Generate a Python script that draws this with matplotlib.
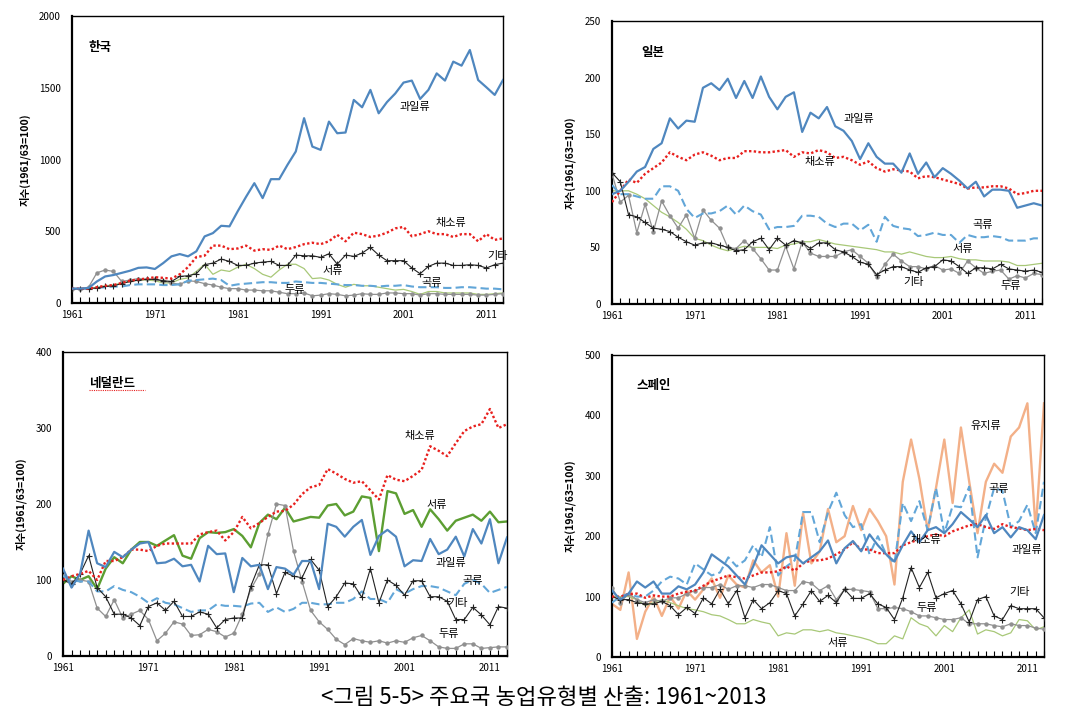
import numpy as np
import matplotlib
matplotlib.use("Agg")
import matplotlib.pyplot as plt

plt.rcParams['font.family'] = ['Noto Sans CJK KR', 'DejaVu Sans']

years = list(range(1961, 2014))

# ---- 한국 ----
kr_fruit = [100, 100, 105, 150, 185, 195, 210, 225, 245, 248, 237, 278, 325, 341, 325, 360, 464, 487, 538, 534,
            640, 740, 835, 731, 863, 863, 963, 1056, 1288, 1090, 1067, 1264, 1183, 1188, 1415, 1364, 1485, 1322, 1400, 1460,
            1536, 1550, 1422, 1485, 1600, 1550, 1682, 1654, 1763, 1554, 1503, 1450, 1554]
kr_veg = [100, 100, 100, 110, 120, 125, 140, 155, 165, 170, 180, 175, 170, 200, 250, 320, 330, 400, 400, 375,
          380, 400, 365, 375, 370, 400, 375, 390, 410, 420, 410, 430, 475, 430, 490, 480, 460, 470, 490, 520,
          530, 465, 480, 500, 480, 480, 460, 480, 480, 430, 480, 440, 450]
kr_other = [100, 100, 100, 105, 115, 120, 135, 150, 160, 165, 165, 155, 150, 185, 190, 204, 267, 278, 306, 290,
            262, 262, 278, 285, 290, 262, 262, 334, 329, 329, 318, 343, 271, 334, 325, 348, 387, 334, 295, 295,
            295, 244, 204, 255, 278, 278, 262, 262, 267, 262, 244, 267, 278]
kr_tuber = [100, 100, 100, 110, 120, 125, 140, 150, 160, 160, 155, 140, 140, 165, 175, 220, 270, 200, 230, 220,
            250, 270, 240, 200, 180, 230, 270, 270, 240, 170, 175, 160, 130, 110, 130, 120, 120, 110, 100, 90,
            95, 80, 60, 80, 80, 70, 70, 70, 70, 60, 60, 65, 70]
kr_grain = [100, 100, 100, 105, 110, 115, 115, 125, 130, 130, 130, 125, 125, 130, 155, 160, 165, 170, 160, 120,
            130, 135, 140, 145, 145, 140, 140, 150, 145, 140, 140, 135, 130, 125, 125, 120, 120, 115, 120, 120,
            125, 115, 110, 110, 110, 105, 105, 110, 110, 105, 100, 100, 95]
kr_pulse = [100, 100, 110, 210, 230, 220, 150, 160, 170, 165, 165, 155, 140, 130, 155, 150, 135, 125, 110, 100,
            100, 90, 90, 85, 85, 75, 65, 65, 70, 50, 55, 65, 60, 50, 55, 65, 60, 60, 70, 70,
            65, 65, 55, 65, 65, 60, 60, 60, 60, 55, 55, 60, 65]

# ---- 일본 ----
jp_fruit = [97, 100, 108, 117, 121, 137, 142, 164, 155, 162, 161, 191, 195, 189, 199, 182, 197, 182, 201, 183,
            172, 183, 187, 152, 169, 164, 174, 157, 153, 144, 128, 142, 130, 124, 124, 116, 133, 115, 125, 112,
            120, 115, 109, 102, 108, 95, 101, 101, 100, 85, 87, 89, 87]
jp_veg = [90, 100, 110, 107, 115, 120, 125, 134, 130, 127, 132, 134, 131, 127, 129, 129, 135, 135, 134, 134,
          135, 136, 130, 134, 133, 136, 134, 129, 130, 127, 123, 126, 120, 117, 119, 118, 117, 111, 113, 112,
          110, 108, 106, 102, 103, 103, 104, 104, 102, 97, 98, 100, 100]
jp_grain = [105, 97, 97, 95, 93, 93, 104, 104, 100, 84, 76, 80, 80, 82, 87, 79, 87, 82, 79, 66,
            68, 68, 69, 78, 78, 77, 71, 68, 71, 71, 65, 70, 55, 77, 69, 67, 66, 60, 61, 63,
            61, 61, 54, 61, 59, 59, 60, 59, 56, 56, 56, 58, 58]
jp_tuber = [100, 100, 100, 97, 93, 87, 81, 77, 72, 66, 58, 56, 52, 49, 47, 49, 51, 50, 50, 50,
            49, 52, 53, 55, 55, 57, 55, 53, 52, 51, 50, 49, 48, 46, 46, 44, 46, 44, 42, 41,
            41, 42, 40, 39, 39, 38, 38, 38, 37, 34, 34, 35, 36]
jp_other = [116, 108, 79, 77, 72, 67, 66, 64, 59, 55, 52, 54, 54, 52, 50, 47, 48, 55, 58, 48,
            58, 52, 56, 54, 49, 54, 54, 48, 46, 42, 37, 35, 26, 30, 33, 33, 30, 28, 32, 33,
            39, 38, 33, 27, 32, 32, 31, 35, 31, 30, 29, 30, 28]
jp_pulse = [115, 90, 96, 63, 88, 64, 91, 78, 67, 79, 58, 83, 74, 67, 50, 49, 56, 49, 40, 30,
            30, 51, 31, 55, 45, 42, 42, 42, 46, 48, 42, 36, 24, 35, 44, 38, 33, 33, 31, 34,
            30, 31, 27, 38, 32, 27, 29, 30, 22, 25, 23, 27, 26]

# ---- 네덜란드 ----
nl_fruit = [115, 90, 108, 165, 122, 117, 137, 130, 140, 148, 150, 122, 123, 128, 118, 120, 98, 145, 134, 135,
            84, 129, 118, 120, 88, 117, 115, 107, 125, 125, 88, 174, 170, 157, 170, 179, 133, 158, 166, 157,
            118, 126, 125, 154, 134, 140, 157, 131, 167, 148, 180, 122, 156]
nl_veg = [100, 105, 108, 112, 100, 125, 125, 130, 140, 140, 138, 145, 148, 148, 148, 148, 160, 163, 165, 152,
          163, 183, 168, 175, 183, 190, 191, 199, 213, 222, 225, 246, 240, 233, 228, 230, 218, 206, 238, 232,
          230, 237, 245, 276, 270, 263, 280, 296, 302, 305, 325, 300, 305]
nl_tuber = [95, 105, 100, 105, 88, 115, 130, 122, 140, 150, 150, 145, 152, 159, 132, 128, 155, 163, 162, 163,
            167, 158, 143, 175, 186, 180, 195, 177, 180, 183, 182, 198, 200, 185, 190, 210, 208, 138, 217, 214,
            187, 192, 170, 193, 180, 165, 178, 182, 186, 178, 190, 176, 177]
nl_grain = [105, 100, 98, 98, 85, 85, 92, 87, 84, 78, 70, 76, 70, 68, 63, 58, 60, 60, 68, 66,
            66, 65, 69, 70, 58, 64, 58, 62, 70, 70, 68, 68, 70, 70, 75, 85, 75, 75, 70, 88,
            82, 88, 92, 92, 90, 85, 80, 95, 100, 95, 83, 87, 91]
nl_other = [100, 95, 108, 132, 90, 78, 55, 55, 50, 40, 65, 70, 60, 72, 52, 52, 58, 55, 37, 48,
            50, 50, 92, 120, 120, 82, 110, 105, 103, 127, 113, 65, 78, 96, 95, 77, 115, 70, 100, 93,
            80, 99, 99, 78, 78, 72, 48, 48, 64, 54, 41, 65, 63]
nl_pulse = [105, 98, 100, 98, 63, 52, 74, 50, 55, 60, 48, 20, 30, 45, 42, 27, 28, 35, 32, 25,
            30, 55, 88, 108, 160, 200, 198, 138, 98, 60, 45, 35, 22, 15, 23, 20, 18, 20, 17, 20,
            18, 24, 27, 20, 12, 10, 10, 16, 16, 10, 11, 12, 12]

# ---- 스페인 ----
es_oil = [88, 78, 140, 30, 75, 100, 68, 100, 80, 110, 95, 112, 130, 98, 135, 120, 115, 160, 140, 152,
          100, 205, 118, 238, 155, 175, 245, 190, 200, 250, 210, 245, 225, 200, 120, 290, 360, 295, 210, 280,
          360, 255, 380, 290, 205, 290, 320, 305, 365, 380, 420, 210, 420]
es_grain = [90, 100, 105, 100, 100, 110, 125, 133, 130, 120, 155, 145, 135, 140, 165, 150, 160, 185, 165, 215,
            135, 150, 160, 240, 240, 190, 240, 272, 235, 215, 220, 170, 200, 170, 155, 255, 225, 258, 210, 280,
            205, 250, 248, 282, 165, 230, 280, 275, 215, 225, 252, 205, 290]
es_fruit = [110, 95, 105, 125, 115, 125, 105, 105, 117, 112, 120, 140, 170, 160, 150, 135, 120, 150, 185, 170,
            155, 165, 168, 155, 165, 175, 193, 155, 180, 192, 175, 203, 185, 170, 158, 185, 208, 190, 210, 215,
            205, 220, 240, 228, 215, 235, 205, 215, 198, 215, 210, 195, 235]
es_veg = [100, 100, 104, 105, 98, 102, 100, 100, 105, 108, 110, 118, 125, 130, 135, 132, 130, 135, 140, 140,
          142, 150, 143, 155, 160, 160, 163, 170, 178, 190, 178, 178, 172, 172, 172, 185, 190, 195, 200, 203,
          200, 208, 213, 218, 220, 215, 212, 220, 215, 213, 210, 212, 210]
es_other = [100, 95, 95, 90, 88, 88, 92, 85, 70, 82, 72, 98, 88, 112, 88, 110, 65, 95, 80, 90,
            110, 105, 68, 88, 110, 92, 102, 90, 112, 97, 97, 105, 88, 82, 62, 98, 148, 115, 140, 98,
            105, 110, 88, 58, 95, 100, 68, 62, 85, 80, 80, 80, 65]
es_pulse = [115, 90, 105, 95, 90, 95, 92, 98, 98, 105, 110, 115, 115, 120, 112, 118, 118, 115, 120, 120,
            115, 110, 110, 125, 122, 110, 118, 95, 112, 112, 110, 108, 80, 80, 82, 80, 75, 68, 68, 65,
            62, 62, 65, 55, 55, 55, 52, 50, 55, 52, 52, 48, 46]
es_tuber = [100, 100, 100, 95, 85, 90, 95, 90, 85, 80, 78, 75, 70, 68, 62, 55, 55, 62, 58, 55,
            35, 40, 38, 45, 45, 42, 45, 40, 38, 35, 32, 28, 22, 22, 35, 30, 65, 55, 50, 35,
            52, 42, 65, 78, 38, 45, 42, 35, 40, 62, 60, 45, 50]

BLUE = '#4F87BF'
RED = '#E8201E'
LBLUE = '#62A6D8'
GREEN = '#A8C878'
DGREEN = '#5C9E32'
ORANGE = '#F3B088'
GRAY = '#909090'

W, H = 1088, 718
fig = plt.figure(figsize=(W / 100, H / 100), dpi=100)


def make_ax(x0, y0, x1, y1):
    return fig.add_axes([x0 / W, 1 - y1 / H, (x1 - x0) / W, (y1 - y0) / H])


def style(ax, ymax, ystep):
    ax.set_xlim(1961, 2013)
    ax.set_ylim(0, ymax)
    ax.set_yticks(np.arange(0, ymax + 1, ystep))
    ax.set_xticks(range(1961, 2014, 10))
    ax.set_xticks(years, minor=True)
    ax.tick_params(axis='x', which='both', direction='in', length=4, width=0.8, labelsize=7, pad=5)
    ax.tick_params(axis='y', length=0, labelsize=7, pad=8)
    for s in ax.spines.values():
        s.set_linewidth(1.0)
    ax.spines['left'].set_linewidth(1.6)
    ax.spines['bottom'].set_linewidth(1.6)
    ax.set_ylabel('지수(1961/63=100)', fontsize=7.5, fontweight='bold', labelpad=6)


def draw(ax, fruit, veg, grain, tuber, other, pulse, tuber_color=GREEN, tuber_lw=0.9):
    ax.plot(years, tuber, color=tuber_color, lw=tuber_lw, zorder=2)
    ax.plot(years, pulse, color=GRAY, lw=0.9, marker='o', ms=2.2, zorder=3)
    ax.plot(years, other, color='#222222', lw=0.8, marker='+', ms=4.5, mew=0.8, zorder=4)
    ax.plot(years, grain, color=LBLUE, lw=1.5, ls=(0, (4, 2)), zorder=3)
    ax.plot(years, veg, color=RED, lw=1.7, ls=(0, (1, 1)), zorder=5)
    ax.plot(years, fruit, color=BLUE, lw=1.6, zorder=6)


def labels(ax, items):
    for txt, x, y in items:
        ax.text(x, y, txt, fontsize=8, ha='center', va='center', zorder=10)


# 한국
ax1 = make_ax(72, 16, 503, 303)
style(ax1, 2000, 500)
draw(ax1, kr_fruit, kr_veg, kr_grain, kr_tuber, kr_other, kr_pulse)
ax1.text(1963, 1780, '한국', fontsize=9, fontweight='bold', va='center')
labels(ax1, [('과일류', 2002.4, 1366), ('채소류', 2006.7, 557), ('기타', 2012.4, 327),
             ('서류', 1992.4, 223), ('곡류', 2004.4, 139), ('두류', 1987.9, 90)])

# 일본
ax2 = make_ax(612, 21, 1042, 304)
style(ax2, 250, 50)
draw(ax2, jp_fruit, jp_veg, jp_grain, jp_tuber, jp_other, jp_pulse)
ax2.text(1964.6, 222, '일본', fontsize=9, fontweight='bold', va='center')
labels(ax2, [('과일류', 1990.9, 163), ('채소류', 1986.2, 125), ('곡류', 2005.8, 70),
             ('서류', 2003.4, 49), ('기타', 1997.5, 19), ('두류', 2009.2, 16)])

# 네덜란드
ax3 = make_ax(63, 352, 507, 656)
style(ax3, 400, 100)
draw(ax3, nl_fruit, nl_veg, nl_grain, nl_tuber, nl_other, nl_pulse, tuber_color=DGREEN, tuber_lw=1.7)
ax3.text(1964.0, 358, '네덜란드', fontsize=9, fontweight='bold', va='center')
ax3.plot([1964.0, 1970.6], [350, 350], color=RED, lw=0.8, ls=(0, (1, 1)))
labels(ax3, [('채소류', 2002.8, 289), ('서류', 2004.8, 199), ('과일류', 2006.4, 122),
             ('곡류', 2009.0, 99), ('기타', 2007.2, 70), ('두류', 2006.2, 29)])

# 스페인
ax4 = make_ax(612, 355, 1044, 657)
style(ax4, 500, 100)
ax4.plot(years, es_oil, color=ORANGE, lw=1.7, zorder=2)
draw(ax4, es_fruit, es_veg, es_grain, es_tuber, es_other, es_pulse)
ax4.text(1963.9, 449, '스페인', fontsize=9, fontweight='bold', va='center')
labels(ax4, [('유지류', 2006.0, 382), ('곡류', 2007.5, 278), ('채소류', 1998.8, 194),
             ('과일류', 2010.9, 177), ('기타', 2010.1, 108), ('두류', 1998.9, 81), ('서류', 1988.2, 23)])

fig.text(0.5, 1 - 697 / H, '<그림 5-5> 주요국 농업유형별 산출: 1961~2013', fontsize=16,
         ha='center', va='center', style='italic')

fig.savefig('out.png', dpi=100)
